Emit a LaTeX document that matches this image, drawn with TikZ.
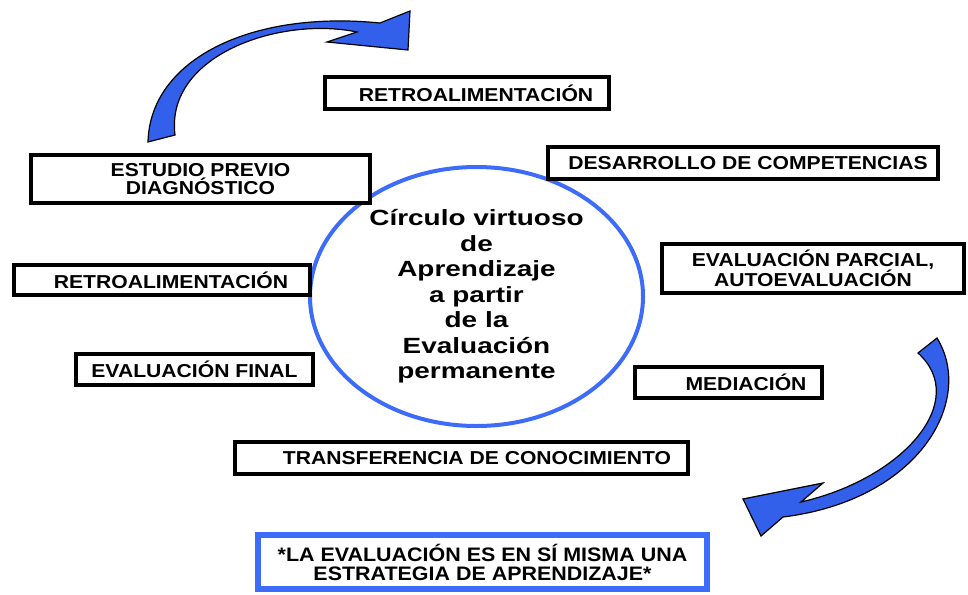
\documentclass[tikz,border=0pt]{standalone}
\usepackage{fontspec}
\newfontfamily\wfont{Liberation Sans}[FakeStretch=1.13]
\newfontfamily\lfont{Liberation Sans}[FakeStretch=1.1]
\newfontfamily\cfont{Liberation Sans}[FakeStretch=1.27]
\usetikzlibrary{shapes.geometric}
\definecolor{rimblue}{RGB}{62,108,250}
\definecolor{arrowblue}{RGB}{50,96,234}
\tikzset{
  box/.style={draw=black, line width=4pt, fill=white, inner sep=0pt, align=center,
    font=\wfont\bfseries\fontsize{18.7}{18.5}\selectfont},
  bluebox/.style={draw=rimblue, line width=6pt, fill=white, inner sep=0pt, align=center,
    font=\lfont\bfseries\fontsize{19.5}{19}\selectfont},
  hub/.style={ellipse, draw=rimblue, line width=4pt, inner sep=0pt, align=center,
    font=\cfont\bfseries\fontsize{22}{25.5}\selectfont},
  bentarrow/.style={fill=arrowblue, draw=black, line width=1.2pt, line join=miter}
}
\begin{document}
\begin{tikzpicture}[x=1pt, y=-1pt]
\useasboundingbox (0,0) rectangle (968,594);

% curved arrows
\draw[bentarrow] (148,142) .. controls (150,60) and (250,10) .. (380,23)
  -- (410,11) -- (408,50) -- (327,42) -- (357,32)
  .. controls (280,16) and (165,55) .. (175,135) -- cycle;
\draw[bentarrow] (937,338) .. controls (975,400) and (920,500) .. (783,517)
  -- (761,536) -- (743,499) -- (823,483) -- (801,502)
  .. controls (905,478) and (970,400) .. (918,353) -- cycle;

% central ellipse
\node[hub, minimum width=333, minimum height=259] (hub) at (476.5,296.5)
  {Círculo virtuoso\\de\\Aprendizaje\\a partir\\de la\\Evaluación\\permanente};

% boxes
\node[box, minimum width=284, minimum height=32] (retroTop) at (467,93)
  {\hspace*{18pt}RETROALIMENTACIÓN};
\node[box, minimum width=339, minimum height=48] (estudio) at (200.5,179)
  {ESTUDIO PREVIO\\DIAGNÓSTICO};
\node[box, minimum width=296, minimum height=30] (retroLeft) at (162,280)
  {\hspace*{18pt}RETROALIMENTACIÓN};
\node[box, minimum width=237, minimum height=31] (final) at (194.5,369.5)
  {EVALUACIÓN FINAL};
\node[box, minimum width=390, minimum height=32] (desarrollo) at (743,163)
  {\hspace*{10pt}DESARROLLO DE COMPETENCIAS};
\node[box, minimum width=302, minimum height=49] (parcial) at (813,268.5)
  {EVALUACIÓN PARCIAL,\\AUTOEVALUACIÓN};
\node[box, minimum width=187, minimum height=31] (mediacion) at (728.5,382.5)
  {\hspace*{35pt}MEDIACIÓN};
\node[box, minimum width=453, minimum height=32] (transfer) at (461.5,458)
  {\hspace*{31pt}TRANSFERENCIA DE CONOCIMIENTO};
\node[bluebox, minimum width=449, minimum height=54] (lema) at (482.5,562)
  {*LA EVALUACIÓN ES EN SÍ MISMA UNA\\ESTRATEGIA DE APRENDIZAJE*};
\end{tikzpicture}
\end{document}
